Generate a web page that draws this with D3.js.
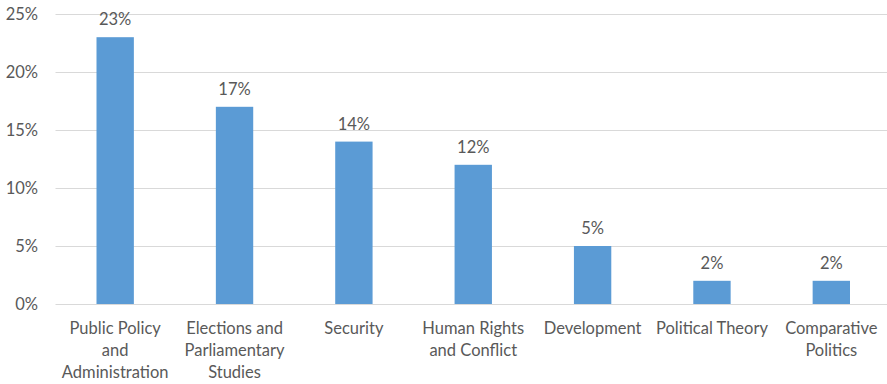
<!DOCTYPE html>
<html>
<head>
<meta charset="utf-8">
<script src="https://cdn.jsdelivr.net/npm/d3@7"></script>
<style>
  body { margin: 0; background: #fff; }
  text { font-family: Lato, "Open Sans", sans-serif; fill: #595959; }
</style>
</head>
<body>
<svg id="chart" width="887" height="384"></svg>
<script>
const categories = [
  ["Public Policy", "and", "Administration"],
  ["Elections and", "Parliamentary", "Studies"],
  ["Security"],
  ["Human Rights", "and Conflict"],
  ["Development"],
  ["Political Theory"],
  ["Comparative", "Politics"]
];
const values = [23, 17, 14, 12, 5, 2, 2];
const yTicks = [0, 5, 10, 15, 20, 25];

const chartW = 887, chartH = 384;
const plotLeft = 55.5, plotRight = 891, plotTop = 14, plotBottom = 304;
const fontSize = "16.5px";

const svg = d3.select("#chart");

const x = d3.scaleBand()
  .domain(d3.range(values.length))
  .range([plotLeft, plotRight])
  .paddingInner(0.687)
  .paddingOuter(0.3435);

const y = d3.scaleLinear().domain([0, 25]).range([plotBottom, plotTop]);

// gridlines
svg.append("g")
  .selectAll("line")
  .data(yTicks)
  .enter()
  .append("line")
  .attr("x1", plotLeft)
  .attr("x2", chartW)
  .attr("y1", d => Math.round(y(d)) + 0.5)
  .attr("y2", d => Math.round(y(d)) + 0.5)
  .attr("stroke", "#d9d9d9")
  .attr("stroke-width", 1);

// y tick labels
svg.append("g")
  .selectAll("text")
  .data(yTicks)
  .enter()
  .append("text")
  .attr("x", 38)
  .attr("y", d => y(d))
  .attr("dy", "0.35em")
  .attr("text-anchor", "end")
  .style("font-size", fontSize)
  .text(d => d + "%");

// bars
svg.append("g")
  .selectAll("rect")
  .data(values)
  .enter()
  .append("rect")
  .attr("x", (d, i) => x(i))
  .attr("width", x.bandwidth())
  .attr("y", d => y(d))
  .attr("height", d => y(0) - y(d))
  .attr("fill", "#5b9bd5");

// value labels
svg.append("g")
  .selectAll("text")
  .data(values)
  .enter()
  .append("text")
  .attr("x", (d, i) => x(i) + x.bandwidth() / 2)
  .attr("y", d => y(d) - 12)
  .attr("text-anchor", "middle")
  .style("font-size", fontSize)
  .text(d => d + "%");

// category labels
const cats = svg.append("g")
  .selectAll("text")
  .data(categories)
  .enter()
  .append("text")
  .attr("x", (d, i) => x(i) + x.bandwidth() / 2)
  .attr("y", 334)
  .attr("text-anchor", "middle")
  .style("font-size", fontSize);

cats.selectAll("tspan")
  .data(d => d)
  .enter()
  .append("tspan")
  .attr("x", function () { return d3.select(this.parentNode).attr("x"); })
  .attr("dy", (d, i) => i === 0 ? 0 : 22)
  .text(d => d);
</script>
</body>
</html>
